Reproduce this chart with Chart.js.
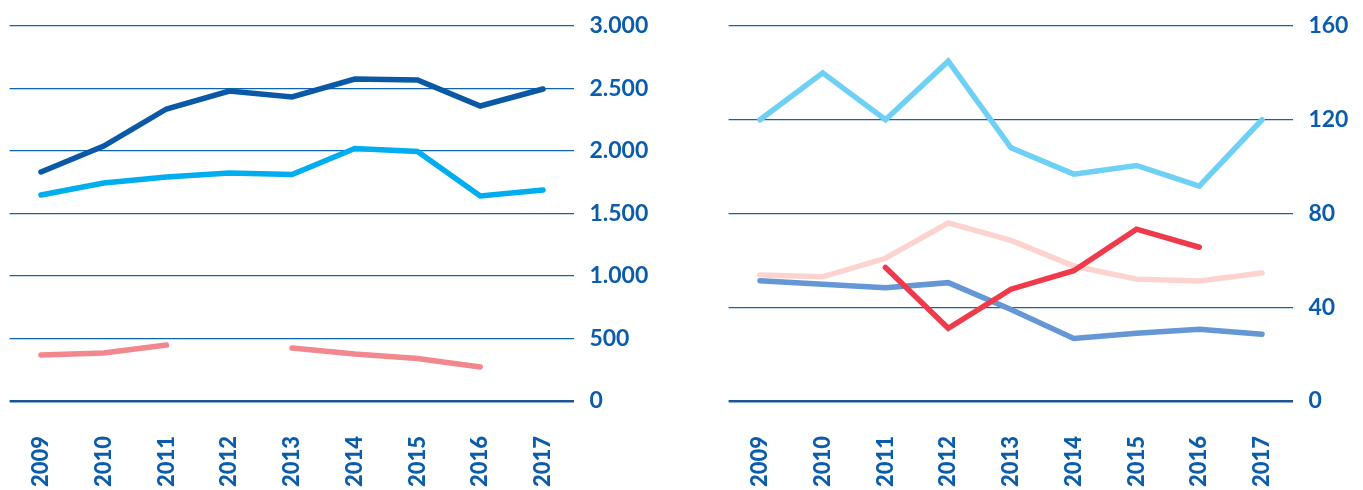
<!DOCTYPE html>
<html>
<head>
<meta charset="utf-8">
<script src="https://cdn.jsdelivr.net/npm/chart.js@4.4.0/dist/chart.umd.min.js"></script>
<style>
  html, body { margin: 0; padding: 0; background: #ffffff; overflow: hidden; }
  body { width: 1363px; height: 490px; position: relative; }
  .box { position: absolute; top: 0; height: 490px; }
  #leftBox { left: 0; width: 680px; }
  #rightBox { left: 719px; width: 644px; }
</style>
</head>
<body>
<div class="box" id="leftBox"><canvas id="leftChart"></canvas></div>
<div class="box" id="rightBox"><canvas id="rightChart"></canvas></div>
<script>
// ---- data ----
const years = ['2009', '2010', '2011', '2012', '2013', '2014', '2015', '2016', '2017'];

// left chart
const leftDarkBlue  = [1832, 2040, 2336, 2480, 2432, 2576, 2568, 2360, 2496];
const leftLightBlue = [1648, 1744, 1792, 1824, 1812, 2020, 1996, 1640, 1688];
const leftPink      = [368, 384, 448, null, 424, 376, 340, 272, null];
const leftTicks     = [0, 500, 1000, 1500, 2000, 2500, 3000];

// right chart
const rightLightBlue = [120, 140, 120, 145, 108, 96.8, 100.5, 91.7, 120];
const rightPalePink  = [53.8, 53, 60.9, 76, 68.5, 57.6, 52, 51.2, 54.6];
const rightRed       = [null, null, 57, 31, 47.7, 55.6, 73.3, 65.6, null];
const rightMidBlue   = [51.3, 49.8, 48.3, 50.5, 39, 26.7, 28.9, 30.6, 28.5];
const rightTicks     = [0, 40, 80, 120, 160];

// ---- helpers ----
const textBlue = '#0b5dab';
const gridBlue = '#0d63b4';
const zeroBlue = '#1d5592';

function fmt(v) {
  return String(Math.round(v)).replace(/\B(?=(\d{3})+(?!\d))/g, '.');
}

function line(data, color, width) {
  return {
    data: data,
    borderColor: color,
    backgroundColor: color,
    borderWidth: width,
    pointRadius: 0,
    pointHoverRadius: 0,
    tension: 0,
    fill: false,
    spanGaps: false,
    borderCapStyle: 'round',
    borderJoinStyle: 'miter'
  };
}

function makeChart(id, datasets, ticks, canvasWidth) {
  const maxV = ticks[ticks.length - 1];
  const step = ticks[1] - ticks[0];
  return new Chart(document.getElementById(id), {
    type: 'line',
    data: { labels: years, datasets: datasets },
    options: {
      responsive: true,
      maintainAspectRatio: false,
      animation: false,
      events: [],
      layout: { padding: { left: 9.6, right: 0, top: 26, bottom: 0 } },
      plugins: { legend: { display: false }, tooltip: { enabled: false } },
      scales: {
        x: {
          offset: true,
          grid: { display: false, drawTicks: false },
          border: { display: false },
          ticks: {
            color: textBlue,
            font: { family: 'Lato', size: 22, weight: '900' },
            maxRotation: 90,
            minRotation: 90,
            padding: 35,
            autoSkip: false
          },
          afterFit: function (s) { s.height = 89; s.paddingLeft = 0; s.paddingRight = 0; }
        },
        y: {
          position: 'right',
          min: 0,
          max: maxV,
          afterBuildTicks: function (s) { s.ticks = ticks.map(v => ({ value: v })); },
          grid: {
            drawTicks: false,
            color: c => (c.tick && c.tick.value === 0) ? zeroBlue : gridBlue,
            lineWidth: c => (c.tick && c.tick.value === 0) ? 2.5 : 1.2
          },
          border: { display: false },
          ticks: {
            stepSize: step,
            color: textBlue,
            font: { family: 'Lato', size: 23, weight: 'bold' },
            padding: 15,
            callback: v => fmt(v)
          },
          afterFit: function (s) { s.width = canvasWidth - 574.4; s.paddingTop = 0; s.paddingBottom = 0; }
        }
      }
    }
  });
}

makeChart('leftChart', [
  line(leftDarkBlue, '#0b59a6', 5.5),
  line(leftLightBlue, '#00adee', 5.5),
  line(leftPink, '#f2878e', 5.5)
], leftTicks, 680);

makeChart('rightChart', [
  line(rightRed, '#ee3a4a', 5.5),
  line(rightLightBlue, '#6fd0f6', 5.5),
  line(rightMidBlue, '#6497d4', 5.5),
  line(rightPalePink, '#fcd3cf', 5.5)
], rightTicks, 644);
</script>
</body>
</html>
